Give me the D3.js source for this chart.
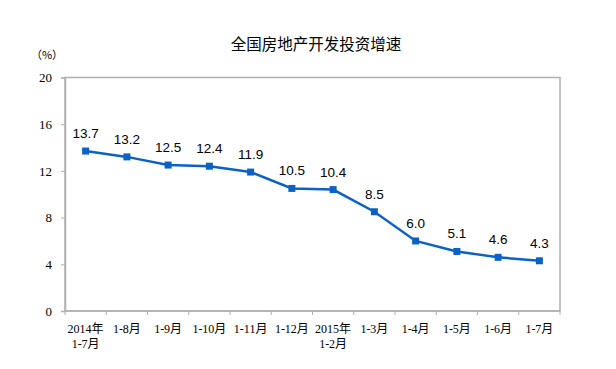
<!DOCTYPE html>
<html>
<head>
<meta charset="utf-8">
<script src="https://cdn.jsdelivr.net/npm/d3@7"></script>
<style>
  body { margin: 0; background: #fff; }
  svg text { fill: #000; }
</style>
</head>
<body>
<div id="chart"></div>
<script>
// data
var months = ["2014年|1-7月", "1-8月", "1-9月", "1-10月", "1-11月", "1-12月",
  "2015年|1-2月", "1-3月", "1-4月", "1-5月", "1-6月", "1-7月"];
var growth = [13.7, 13.2, 12.5, 12.4, 11.9, 10.5, 10.4, 8.5, 6.0, 5.1, 4.6, 4.3];
var yTicks = [0, 4, 8, 12, 16, 20];

var svgWidth = 616, svgHeight = 369;
var margin = { top: 77.5, right: 56, bottom: 58, left: 65 };
var width = svgWidth - margin.left - margin.right;
var height = svgHeight - margin.top - margin.bottom;

var svg = d3.select("#chart").append("svg")
  .attr("width", svgWidth)
  .attr("height", svgHeight);

var g = svg.append("g")
  .attr("transform", `translate(${margin.left}, ${margin.top})`);

var x = d3.scaleBand().domain(months).range([0, width]);
var y = d3.scaleLinear().domain([0, 20]).range([height, 0]);

var axisCol = "#b0b0b0";
var serif = "'Liberation Serif', 'Noto Sans CJK SC', serif";
var sans = "'Liberation Sans', Arial, sans-serif";

// plot box
g.append("rect")
  .attr("width", width).attr("height", height)
  .attr("fill", "none").attr("stroke", axisCol).attr("stroke-width", 1.5);

// y axis
var yAxis = g.append("g").call(d3.axisLeft(y).tickValues(yTicks).tickSize(4).tickPadding(9));
yAxis.select(".domain").attr("stroke", axisCol).attr("stroke-width", 1.5);
yAxis.selectAll("line").attr("stroke", axisCol);
yAxis.selectAll("text").attr("font-family", serif).attr("font-size", 13).attr("fill", "#000");

// x axis: ticks at category boundaries
var bounds = months.map(function (m) { return x(m); }).concat([width]);
g.append("g").selectAll("line").data(bounds).enter().append("line")
  .attr("x1", d => d).attr("x2", d => d)
  .attr("y1", height).attr("y2", height + 4)
  .attr("stroke", axisCol);
g.append("line").attr("x1", 0).attr("x2", width)
  .attr("y1", height).attr("y2", height)
  .attr("stroke", axisCol).attr("stroke-width", 1.5);

var xl = g.append("g").selectAll("text").data(months).enter().append("text")
  .attr("x", d => x(d) + x.bandwidth() / 2)
  .attr("y", height + 22)
  .attr("text-anchor", "middle")
  .attr("font-family", serif)
  .attr("font-size", 12);
xl.each(function (d) {
  var parts = d.split("|");
  var t = d3.select(this);
  parts.forEach(function (p, i) {
    t.append("tspan").attr("x", x(d) + x.bandwidth() / 2)
      .attr("dy", i === 0 ? 0 : 15).text(p);
  });
});

// line + markers
var pts = months.map(function (m, i) { return { m: m, v: growth[i] }; });
var line = d3.line().x(d => x(d.m) + x.bandwidth() / 2).y(d => y(d.v));
g.append("path").datum(pts)
  .attr("d", line).attr("fill", "none")
  .attr("stroke", "#0a63c4").attr("stroke-width", 2.5);
g.selectAll(".mk").data(pts).enter().append("rect")
  .attr("class", "mk")
  .attr("x", d => x(d.m) + x.bandwidth() / 2 - 3.5)
  .attr("y", d => y(d.v) - 3.5)
  .attr("width", 7).attr("height", 7)
  .attr("fill", "#0a63c4");

// value labels
g.selectAll(".lbl").data(pts).enter().append("text")
  .attr("class", "lbl")
  .attr("x", d => x(d.m) + x.bandwidth() / 2)
  .attr("y", d => y(d.v) - 13)
  .attr("text-anchor", "middle")
  .attr("font-family", sans)
  .attr("font-size", 13.5)
  .text(d => d.v.toFixed(1));

// title and unit
svg.append("text")
  .attr("x", 316).attr("y", 50)
  .attr("text-anchor", "middle")
  .attr("font-family", "'Noto Sans CJK SC', sans-serif")
  .attr("font-size", 15.5)
  .text("全国房地产开发投资增速");

svg.append("text")
  .attr("x", 47).attr("y", 59)
  .attr("text-anchor", "middle")
  .attr("font-family", "'Noto Sans CJK SC', sans-serif")
  .attr("font-size", 11)
  .text("（%）");
</script>
</body>
</html>
